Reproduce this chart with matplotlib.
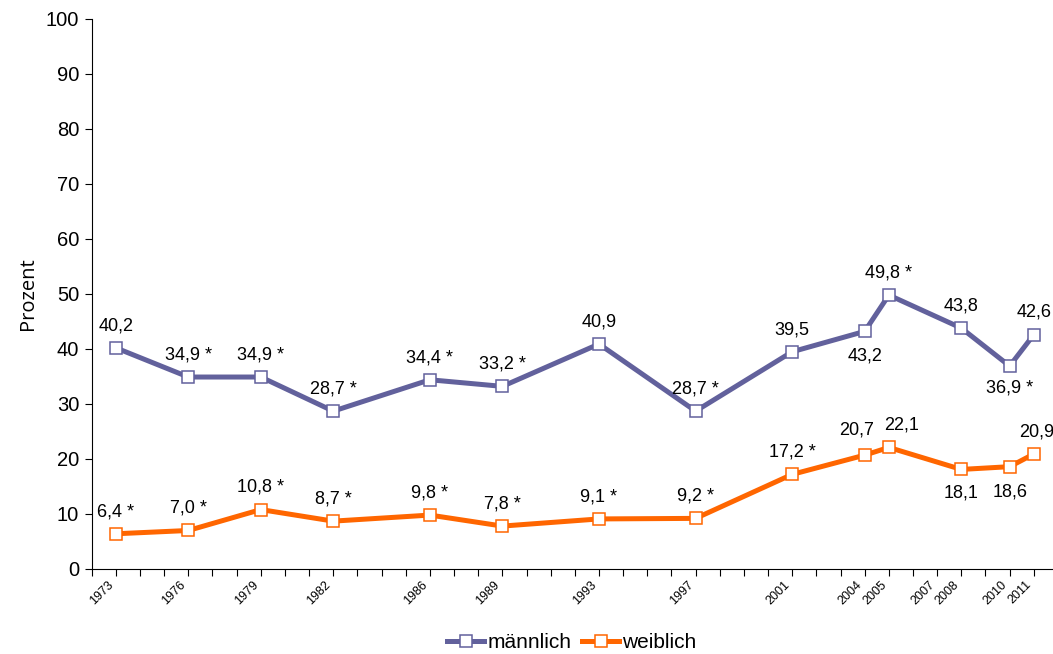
import matplotlib
matplotlib.use("Agg")
import matplotlib.pyplot as plt
from matplotlib.ticker import FixedLocator, MultipleLocator

plt.rcParams['font.family'] = ['Liberation Sans', 'DejaVu Sans']

# Survey years and shares (in percent)
years = [1973, 1976, 1979, 1982, 1986, 1989, 1993, 1997, 2001, 2004, 2005, 2008, 2010, 2011]
tick_years = [1973, 1976, 1979, 1982, 1986, 1989, 1993, 1997, 2001, 2004, 2005, 2007, 2008, 2010, 2011]
maennlich = [40.2, 34.9, 34.9, 28.7, 34.4, 33.2, 40.9, 28.7, 39.5, 43.2, 49.8, 43.8, 36.9, 42.6]
weiblich = [6.4, 7.0, 10.8, 8.7, 9.8, 7.8, 9.1, 9.2, 17.2, 20.7, 22.1, 18.1, 18.6, 20.9]
# significance marker per survey year
sig_m = [False, True, True, True, True, True, False, True, False, False, True, False, True, False]
sig_w = [True, True, True, True, True, True, True, True, True, False, False, False, False, False]

# label offsets (points) relative to each marker
off_m = [(0, 16)] * 9 + [(0, -18), (0, 16), (0, 16), (0, -16), (0, 16)]
off_w = [(0, 16)] * 9 + [(-6, 18), (9, 16), (0, -17), (0, -18), (2, 16)]

col_m = '#62619C'
col_w = '#FF6600'

fig = plt.figure(figsize=(10.53, 6.54), dpi=100)
ax = fig.add_axes([0.0871, 0.130, 0.913, 0.841])

ax.plot(years, maennlich, color=col_m, lw=3.6, marker='s', ms=8.5,
        mfc='white', mec=col_m, mew=1.1, label='männlich', zorder=3)
ax.plot(years, weiblich, color=col_w, lw=3.6, marker='s', ms=8.5,
        mfc='white', mec=col_w, mew=1.1, label='weiblich', zorder=3)


def fmt(v, s):
    t = f"{v:.1f}".replace('.', ',')
    return t + ' *' if s else t


for x, v, s, o in zip(years, maennlich, sig_m, off_m):
    ax.annotate(fmt(v, s), (x, v), xytext=o, textcoords='offset points',
                ha='center', va='center', fontsize=13, annotation_clip=False)
for x, v, s, o in zip(years, weiblich, sig_w, off_w):
    ax.annotate(fmt(v, s), (x, v), xytext=o, textcoords='offset points',
                ha='center', va='center', fontsize=13, annotation_clip=False)

ax.set_xlim(1972, 2011.8)
ax.set_ylim(0, 100)
ax.yaxis.set_major_locator(MultipleLocator(10))
ax.xaxis.set_major_locator(FixedLocator(tick_years))
ax.xaxis.set_minor_locator(MultipleLocator(1))
ax.set_xticklabels([str(y) for y in tick_years], rotation=45, ha='right',
                   fontsize=9)
ax.tick_params(axis='y', labelsize=14.5, length=5, width=0.8, direction='out', pad=4)
ax.tick_params(axis='x', which='both', length=5, width=0.8, direction='out', pad=2)

for side in ('top', 'right'):
    ax.spines[side].set_visible(False)
ax.spines['left'].set_linewidth(0.8)
ax.spines['bottom'].set_linewidth(0.8)

ax.set_ylabel('Prozent', fontsize=14.5, family=['Open Sans', 'DejaVu Sans'], labelpad=6)

fig.legend(loc='center', bbox_to_anchor=(0.543, 0.017), ncol=2, frameon=False,
           fontsize=15, handlelength=1.8, handletextpad=0.15, columnspacing=0.5,
           borderaxespad=0)

fig.savefig('out.png', dpi=100)
